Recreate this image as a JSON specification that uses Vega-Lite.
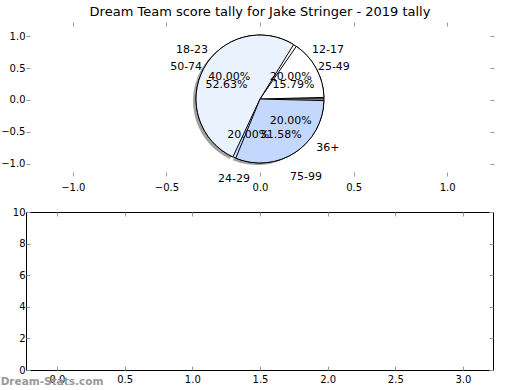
{
  "$schema": "https://vega.github.io/schema/vega-lite/v6.json",
  "padding": {"left": 0, "top": 5, "right": 0, "bottom": 0},
  "background": "white",
  "bounds": "flush",
  "spacing": 36,
  "datasets": {
    "pie1": [
      {"label": "12-17", "share": 0.2},
      {"label": "18-23", "share": 0.4},
      {"label": "24-29", "share": 0.2},
      {"label": "36+", "share": 0.2}
    ],
    "pie2": [
      {"label": "25-49", "share": 0.1579},
      {"label": "50-74", "share": 0.5263},
      {"label": "75-99", "share": 0.3158}
    ]
  },
  "config": {
    "font": "DejaVu Sans",
    "view": {"stroke": null},
    "axis": {
      "grid": false,
      "domain": false,
      "tickColor": "#999",
      "tickSize": -4,
      "labelFont": "DejaVu Sans",
      "labelFontSize": 10,
      "labelColor": "black",
      "title": null
    },
    "title": {"font": "DejaVu Sans", "fontSize": 13, "fontWeight": "normal", "color": "black"}
  },
  "vconcat": [
    {
      "width": 468,
      "height": 154,
      "title": {"text": "Dream Team score tally for Jake Stringer - 2019 tally", "frame": "group", "offset": -7, "baseline": "alphabetic"},
      "layer": [
        {
          "data": {"values": [{"v": 0}]},
          "mark": {"type": "point", "opacity": 0},
          "encoding": {
            "x": {"field": "v", "type": "quantitative", "scale": {"domain": [-1.25, 1.25], "nice": false},
                  "axis": {"orient": "bottom", "values": [-1, -0.5, 0, 0.5, 1], "format": ".1f", "labelPadding": 10, "labelFlush": false}},
            "y": {"field": "v", "type": "quantitative", "scale": {"domain": [-1.19, 1.22], "nice": false},
                  "axis": {"orient": "left", "values": [-1, -0.5, 0, 0.5, 1], "format": ".1f", "labelPadding": 5, "labelFlush": false}}
          }
        },
        {
          "data": {"values": [{"v": 0}]},
          "mark": {"type": "point", "opacity": 0},
          "encoding": {
            "x": {"field": "v", "type": "quantitative", "axis": {"orient": "top", "values": [-1, -0.5, 0, 0.5, 1], "labels": false}},
            "y": {"field": "v", "type": "quantitative", "axis": {"orient": "right", "values": [-1, -0.5, 0, 0.5, 1], "labels": false}}
          }
        },
        {
          "data": {"name": "pie2"},
          "mark": {"type": "arc", "outerRadius": 64, "fill": "#555", "opacity": 0.55, "xOffset": -3, "yOffset": 2, "padAngle": 0.05},
          "encoding": {
            "theta": {"field": "share", "type": "quantitative", "stack": true, "scale": {"range": [1.5708, -4.7124]}},
            "order": {"field": "label", "sort": "ascending"}
          }
        },
        {
          "data": {"name": "pie1"},
          "mark": {"type": "arc", "outerRadius": 64, "stroke": "black", "strokeWidth": 1},
          "encoding": {
            "theta": {"field": "share", "type": "quantitative", "stack": true},
            "order": {"field": "label", "sort": "ascending"},
            "color": {"field": "label", "type": "nominal", "legend": null,
                      "scale": {"domain": ["12-17", "18-23", "24-29", "36+", "25-49", "50-74", "75-99"],
                                "range": ["#ffffff", "#eaf2fe", "#c3d8fc", "#ffffff", "#ffffff", "#eaf2fe", "#c3d8fc"]}}
          }
        },
        {
          "data": {"name": "pie2"},
          "mark": {"type": "arc", "outerRadius": 64, "stroke": "black", "strokeWidth": 1, "padAngle": 0.05},
          "encoding": {
            "theta": {"field": "share", "type": "quantitative", "stack": true},
            "order": {"field": "label", "sort": "ascending"},
            "color": {"field": "label", "type": "nominal", "legend": null}
          }
        },
        {
          "data": {"name": "pie1"},
          "mark": {"type": "text", "radius": 84, "fontSize": 11, "color": "black"},
          "encoding": {
            "theta": {"field": "share", "type": "quantitative", "stack": true},
            "order": {"field": "label", "sort": "ascending"},
            "text": {"field": "label"}
          }
        },
        {
          "data": {"name": "pie2"},
          "mark": {"type": "text", "radius": 84, "fontSize": 11, "color": "black", "dy": 8},
          "encoding": {
            "theta": {"field": "share", "type": "quantitative", "stack": true},
            "order": {"field": "label", "sort": "ascending"},
            "text": {"field": "label"}
          }
        },
        {
          "data": {"name": "pie1"},
          "mark": {"type": "text", "radius": 38, "fontSize": 11, "color": "black"},
          "encoding": {
            "theta": {"field": "share", "type": "quantitative", "stack": true},
            "order": {"field": "label", "sort": "ascending"},
            "text": {"field": "share", "type": "quantitative", "format": ".2%"}
          }
        },
        {
          "data": {"name": "pie2"},
          "mark": {"type": "text", "radius": 38, "fontSize": 11, "color": "black", "dy": 4},
          "encoding": {
            "theta": {"field": "share", "type": "quantitative", "stack": true},
            "order": {"field": "label", "sort": "ascending"},
            "text": {"field": "share", "type": "quantitative", "format": ".2%"}
          }
        }
      ],
      "resolve": {"axis": {"x": "independent", "y": "independent"}}
    },
    {
      "width": 467,
      "height": 158,
      "view": {"stroke": "black", "strokeWidth": 1},
      "layer": [
        {
          "data": {"values": [{"v": 0}]},
          "mark": {"type": "point", "opacity": 0},
          "encoding": {
            "x": {"field": "v", "type": "quantitative", "scale": {"domain": [-0.229, 3.222], "nice": false},
                  "axis": {"orient": "bottom", "values": [0, 0.5, 1, 1.5, 2, 2.5, 3], "format": ".1f", "labelPadding": 8, "labelFlush": false}},
            "y": {"field": "v", "type": "quantitative", "scale": {"domain": [0, 10], "nice": false},
                  "axis": {"orient": "left", "values": [0, 2, 4, 6, 8, 10], "labelPadding": 5, "labelFlush": false}}
          }
        },
        {
          "data": {"values": [{"v": 0}]},
          "mark": {"type": "point", "opacity": 0},
          "encoding": {
            "x": {"field": "v", "type": "quantitative", "axis": {"orient": "top", "values": [0, 0.5, 1, 1.5, 2, 2.5, 3], "labels": false}},
            "y": {"field": "v", "type": "quantitative", "axis": {"orient": "right", "values": [0, 2, 4, 6, 8, 10], "labels": false}}
          }
        },
        {
          "data": {"values": [{"mark": "Dream-Stats.com", "x": 0, "y": 0}]},
          "mark": {"type": "text", "fontSize": 10.5, "fontWeight": "bold", "color": "#999", "dx": -5, "dy": 12},
          "encoding": {
            "x": {"field": "x", "type": "quantitative", "axis": null},
            "y": {"field": "y", "type": "quantitative", "axis": null},
            "text": {"field": "mark"}
          }
        }
      ],
      "resolve": {"axis": {"x": "independent", "y": "independent"}}
    }
  ]
}
